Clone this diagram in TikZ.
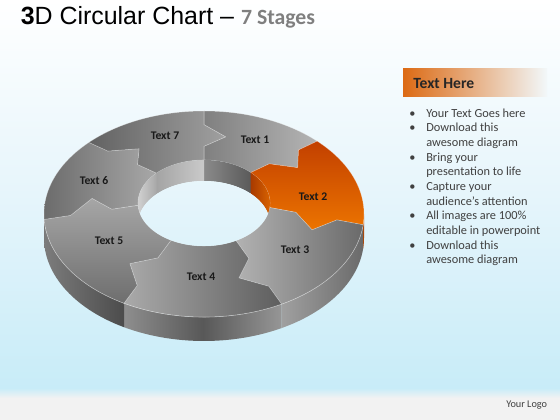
\documentclass[tikz,border=0pt]{standalone}
\usepackage{fontspec}
\setmainfont{Carlito}
\newfontfamily\titlefont{Liberation Sans}
\definecolor{bgblue}{HTML}{C8ECF8}
\definecolor{bgmid}{HTML}{E6F5FB}
\definecolor{footgray}{HTML}{F2F2F2}
\definecolor{txtgray}{HTML}{404040}
\definecolor{hdrorange}{HTML}{DC6A14}
\definecolor{hdrmid}{HTML}{E99B58}
\definecolor{hdrend}{HTML}{F2F8FA}
\definecolor{stagegray}{HTML}{7F7F7F}
\def\ocx{204}\def\ocy{214}\def\orx{160}\def\ory{103}
\def\icx{204}\def\icy{203}\def\irx{66}\def\iry{43}
\def\tw{24}\def\ti{21}
\newcommand\ringpiece[5]{%
  \path[#1] (b#2-0) -- (b#2-1) -- (b#2-t) -- (b#2-2) -- (b#2-3)
   -- plot[domain=#3:#5, samples=40] ({\ocx+\orx*cos(\x)},{\ocy-\ory*sin(\x)})
   -- (b#4-3) -- (b#4-2) -- (b#4-t) -- (b#4-1) -- (b#4-0)
   -- plot[domain=#5:#3, samples=30] ({\icx+\irx*cos(\x)},{\icy-\iry*sin(\x)}) -- cycle;}
\newcommand\outerwall[3]{%
  \path[#1] plot[domain=#2:#3, samples=30] ({\ocx+\orx*cos(\x)},{\ocy-\ory*sin(\x)})
   -- plot[domain=#3:#2, samples=30] ({\ocx+\orx*cos(\x)},{\ocy-\ory*sin(\x)+\tw}) -- cycle;}
\newcommand\innerwall[3]{%
  \path[#1] plot[domain=#2:#3, samples=30] ({\icx+\irx*cos(\x)},{\icy-\iry*sin(\x)})
   -- plot[domain=#3:#2, samples=30] ({\icx+\irx*cos(\x)},{\icy-\iry*sin(\x)+\ti}) -- cycle;}
\tikzset{
  lbl/.style={font=\bfseries\fontsize{8.75}{10}\selectfont, text=black!90, inner sep=0},
  bgshade/.style={top color=white, bottom color=bgblue, middle color=bgmid},
  edge/.style={draw=white, draw opacity=0.35, line width=0.4pt}
}
\begin{document}
\begin{tikzpicture}[x=0.75pt,y=-0.75pt]
\useasboundingbox (0,0) rectangle (560,420);
% background
\shade[bgshade] (0,0) rectangle (560,388);
\shade[top color=bgblue, bottom color=footgray] (0,388) rectangle (560,398);
\fill[footgray] (0,398) rectangle (560,420);

% title
\node[anchor=base west, inner sep=0] (title) at (20.5,25)
  {\titlefont\fontsize{18.7}{20}\selectfont\textbf{3}D Circular Chart – {\normalfont\bfseries\fontsize{16.3}{18}\selectfont\color{stagegray}7 Stages}};

% boundary coordinates
\foreach \n/\a in {71/90,12/45,23/-6,34/-61,45/-120,56/-177,67/-224}{
  \coordinate (b\n-0) at ({\icx+\irx*cos(\a)},{\icy-\iry*sin(\a)});
  \coordinate (b\n-1) at ({0.72*(\icx+\irx*cos(\a))+0.28*(\ocx+\orx*cos(\a))},{0.72*(\icy-\iry*sin(\a))+0.28*(\ocy-\ory*sin(\a))});
  \coordinate (b\n-t) at ({0.5*(\icx+\irx*cos(\a-11))+0.5*(\ocx+\orx*cos(\a-11))},{0.5*(\icy-\iry*sin(\a-11))+0.5*(\ocy-\ory*sin(\a-11))});
  \coordinate (b\n-2) at ({0.28*(\icx+\irx*cos(\a))+0.72*(\ocx+\orx*cos(\a))},{0.28*(\icy-\iry*sin(\a))+0.72*(\ocy-\ory*sin(\a))});
  \coordinate (b\n-3) at ({\ocx+\orx*cos(\a)},{\ocy-\ory*sin(\a)});
}

% outer side walls
\outerwall{fill={rgb,255:red,178;green,68;blue,0}}{0}{-6}
\outerwall{left color={rgb,255:red,160;green,160;blue,160}, right color={rgb,255:red,106;green,106;blue,106}}{-6}{-61}
\outerwall{left color={rgb,255:red,142;green,142;blue,142}, right color={rgb,255:red,150;green,150;blue,150}, middle color={rgb,255:red,88;green,88;blue,88}}{-61}{-120}
\outerwall{left color={rgb,255:red,124;green,124;blue,124}, right color={rgb,255:red,76;green,76;blue,76}}{-120}{-177}
\outerwall{fill={rgb,255:red,106;green,106;blue,106}}{-177}{-180}
\draw[white, opacity=0.5, line width=0.5pt] plot[domain=-180:0, samples=60] ({\ocx+\orx*cos(\x)},{\ocy-\ory*sin(\x)});

% top faces
\ringpiece{left color={rgb,255:red,128;green,128;blue,128}, right color={rgb,255:red,180;green,180;blue,180}, edge}{71}{90}{12}{45}
\ringpiece{top color={rgb,255:red,194;green,64;blue,0}, bottom color={rgb,255:red,236;green,116;blue,0}, edge}{12}{45}{23}{-6}
\ringpiece{left color={rgb,255:red,178;green,178;blue,178}, right color={rgb,255:red,106;green,106;blue,106}, edge}{23}{-6}{34}{-61}
\ringpiece{left color={rgb,255:red,170;green,170;blue,170}, right color={rgb,255:red,94;green,94;blue,94}, edge}{34}{-61}{45}{-120}
\ringpiece{top color={rgb,255:red,166;green,166;blue,166}, bottom color={rgb,255:red,110;green,110;blue,110}, edge}{45}{-120}{56}{-177}
\ringpiece{left color={rgb,255:red,108;green,108;blue,108}, right color={rgb,255:red,168;green,168;blue,168}, edge}{56}{-177}{67}{-224}
\ringpiece{left color={rgb,255:red,98;green,98;blue,98}, right color={rgb,255:red,160;green,160;blue,160}, edge}{67}{-224}{71}{-270}

% inner walls and hole
\begin{scope}
  \clip (\icx,\icy) ellipse [x radius=\irx, y radius=\iry];
  \innerwall{left color={rgb,255:red,168;green,58;blue,0}, right color={rgb,255:red,216;green,98;blue,0}}{45}{0}
  \innerwall{left color={rgb,255:red,138;green,138;blue,138}, right color={rgb,255:red,90;green,90;blue,90}}{90}{45}
  \innerwall{left color={rgb,255:red,164;green,164;blue,164}, right color={rgb,255:red,202;green,202;blue,202}}{136}{90}
  \innerwall{left color={rgb,255:red,208;green,208;blue,208}, right color={rgb,255:red,168;green,168;blue,168}}{180}{136}
  \clip (\icx,\icy+\ti) ellipse [x radius=\irx, y radius=\iry];
  \shade[bgshade] (0,0) rectangle (560,388);
\end{scope}

% stage labels
\node[lbl] (t1) at (255,140) {Text 1};
\node[lbl] (t2) at (313,197) {Text 2};
\node[lbl] (t3) at (295,250) {Text 3};
\node[lbl] (t4) at (201,277) {Text 4};
\node[lbl] (t5) at (109,241) {Text 5};
\node[lbl] (t6) at (94,181) {Text 6};
\node[lbl] (t7) at (165,136) {Text 7};

% right panel
\shade[left color=hdrorange, middle color=hdrmid, right color=hdrend] (403,69) rectangle (547,97);
\node[anchor=west, inner sep=0, font=\bfseries\fontsize{11.7}{13}\selectfont, text=black!85] (hdr) at (413,83.5) {Text Here};
\node[anchor=north west, inner sep=0, text=txtgray, font=\fontsize{9.25}{11}\selectfont] (list) at (409,106.5)
{\begin{tabular}{@{}p{12.75pt}@{}l@{}}
\textbullet & Your Text Goes here\\
\textbullet & Download this\\
 & awesome diagram\\
\textbullet & Bring your\\
 & presentation to life\\
\textbullet & Capture your\\
 & audience’s attention\\
\textbullet & All images are 100\%\\
 & editable in powerpoint\\
\textbullet & Download this\\
 & awesome diagram
\end{tabular}};

% footer
\node[anchor=west, inner sep=0, text=txtgray, font=\fontsize{7.7}{9}\selectfont] (logo) at (506,405) {Your Logo};
\end{tikzpicture}
\end{document}
